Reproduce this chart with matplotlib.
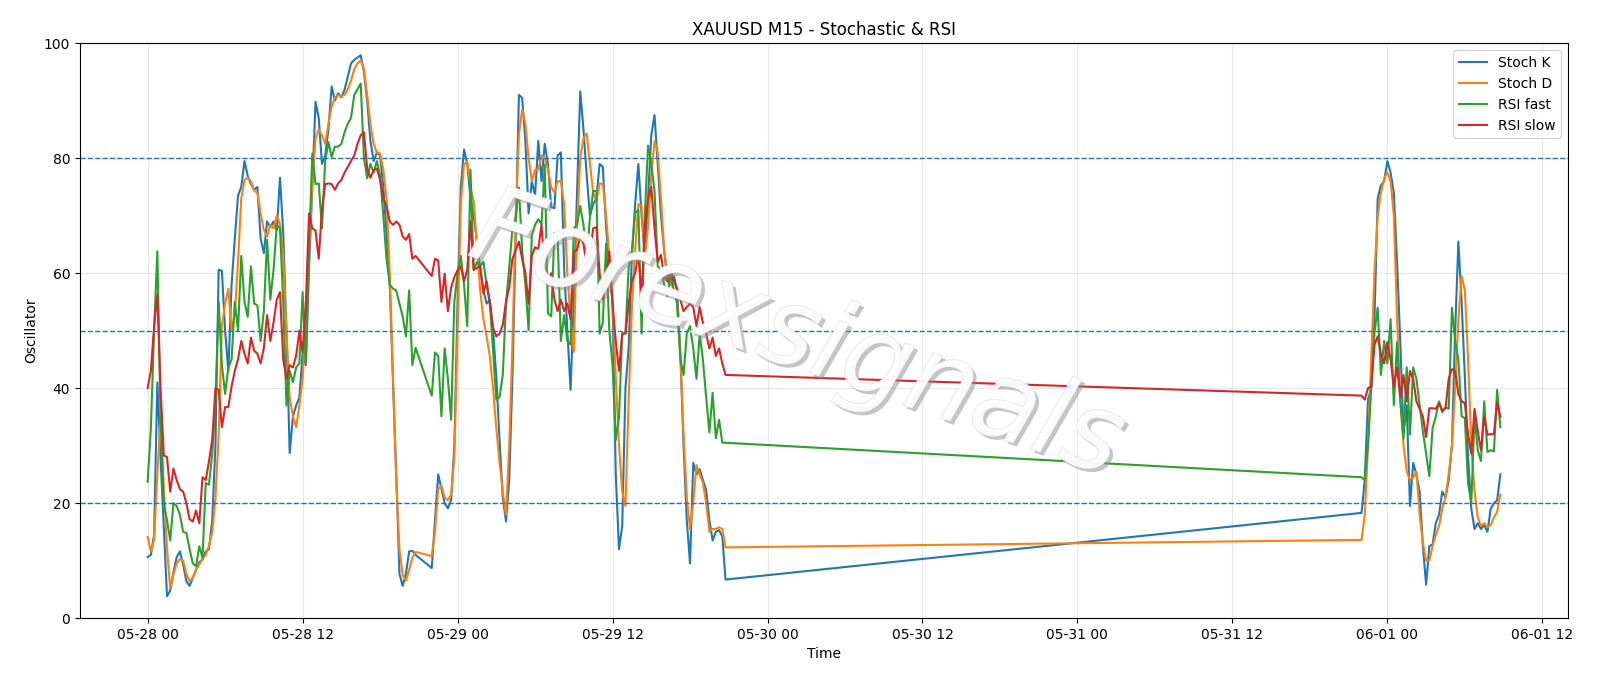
import matplotlib
matplotlib.use("Agg")
import matplotlib.pyplot as plt
import matplotlib.dates as mdates
import matplotlib.patheffects as pe
import pandas as pd

# 15 minute bars, three blocks (daily break on 05-28, weekend gap)
t_1 = pd.date_range("2020-05-28 00:00", periods=84, freq="15min")
t_2 = pd.date_range("2020-05-28 22:00", periods=92, freq="15min")
t_3 = pd.date_range("2020-05-31 22:00", periods=44, freq="15min")

stoch_k_1 = [10.6, 11.0, 14.5, 41.0, 28, 16, 3.8, 4.8, 8.0, 10.6,
             11.6, 9.3, 6.4, 5.6, 7.0, 8.4, 9.7, 10.2, 11.6, 12.0,
             17, 30, 60.6, 60.4, 50, 43, 58, 66, 73.5, 75,
             79.5, 76.9, 75.5, 74.5, 75, 66, 63.5, 69, 68, 69,
             67.5, 76.6, 67, 50, 28.7, 35, 37, 38.4, 46, 44,
             61, 75, 89.8, 87, 79, 80.5, 85, 92.5, 90, 91.3,
             90.6, 91.9, 94.2, 96.5, 97.1, 97.5, 97.9, 95, 90, 83,
             79.5, 81, 80.5, 75, 67, 58, 41, 25, 7.7, 5.6,
             7.7, 11.6, 11.7, 11.0]
stoch_k_2 = [8.7, 17, 25, 22.5, 20, 19.1, 20.5, 30, 55, 75,
             81.5, 79, 73, 70, 65.5, 61, 57, 54.7, 55.4, 50,
             42, 31, 21, 16.8, 24, 42, 66, 91, 90.5, 83,
             70.4, 76, 73.5, 83, 76, 82.5, 79, 71.5, 71.3, 80.5,
             81, 61, 50, 39.7, 55, 74, 91.6, 85, 77, 70,
             72, 73, 79, 78.5, 68, 61, 54.7, 25, 12, 16,
             40, 47, 63, 72, 79, 70, 63, 73, 84, 87.5,
             79, 70, 63.8, 58.6, 58, 59.5, 57, 46, 30, 17,
             9.5, 27, 25, 25.9, 24, 22.3, 17, 13.5, 15, 15.3,
             14.2, 6.7]
stoch_k_3 = [18.3, 24, 38, 40, 52, 73, 75.3, 76, 79.5, 77.5,
             74, 62, 48, 32, 37, 19.5, 27, 25, 22, 12.5,
             5.8, 12.5, 12.8, 16.5, 18, 22, 21, 24, 30, 50,
             65.5, 55, 42, 28, 19, 15.5, 16.5, 15.5, 16.2, 15,
             19, 20, 20.5, 25]

stoch_d_1 = [14.1, 11.6, 13.6, 25, 34.7, 23, 12, 5.2, 7.7, 9.5,
             10.3, 10, 7.7, 6.4, 7, 8.4, 9.3, 10.3, 11, 12.6,
             14.9, 20.8, 31.9, 50.8, 54.7, 57.3, 50, 53, 62, 73,
             76.2, 76.6, 76, 74.3, 74, 70.4, 67.5, 66.4, 68.4, 67.8,
             70, 68.5, 63, 50, 38.4, 35.1, 33.2, 37, 41.6, 50.5,
             63.5, 75.5, 83.4, 85, 84, 82.5, 86, 89, 90.5, 91,
             90.8, 91, 92, 93.5, 95.5, 96.5, 97, 95.5, 91, 86,
             82.5, 81, 80.8, 78, 73, 60, 42, 24, 12, 7.5,
             6.5, 8.4, 10.5, 11.5]
stoch_d_2 = [10.8, 15, 22.5, 23, 21, 20.5, 21.5, 28, 50, 72,
             78.9, 79.5, 75, 72.5, 65, 57, 52, 49, 45.5, 40,
             33, 27, 22, 18, 30, 48, 70, 84, 88.5, 86,
             80, 76, 78, 78, 80.5, 80, 78, 75, 74, 76,
             76, 72, 60, 52, 46.3, 68, 80, 83.5, 84.3, 79,
             74, 72.5, 75.6, 75.5, 70, 63, 55, 42, 30, 22,
             19.5, 38, 54, 64, 72, 71.7, 63, 68, 77, 83,
             81, 73, 64, 60, 58.5, 57, 55, 46, 32, 21,
             15.5, 20, 26.6, 25, 23.5, 20, 15, 15.5, 15.5, 15.8,
             15.5, 12.3]
stoch_d_3 = [13.6, 18, 30, 45, 60, 70, 74, 76.5, 77.5, 76,
             70, 52, 38, 30, 25.5, 24, 24.5, 25.5, 18, 13,
             10, 10, 12.5, 14.5, 16, 19, 21, 25, 30, 40,
             52, 59.5, 57, 45, 30, 22, 17.5, 16, 16.5, 15.8,
             16.2, 17.5, 18.5, 21.5]

rsi_fast_1 = [23.7, 33, 50, 63.8, 35, 20, 17, 13.5, 20, 19.5,
              18, 15, 14.8, 12, 9.5, 9, 12.5, 10.5, 23.5, 23.2,
              28.6, 37.7, 55, 44, 39, 43.6, 45, 55, 50, 63,
              55, 52.4, 61.2, 54.7, 54.4, 48.2, 53.4, 65.8, 55.4, 60.6,
              68.4, 67.8, 55, 37, 43, 41, 43.6, 44.3, 56.7, 44.3,
              64.5, 80.8, 75.5, 75.6, 67.8, 79.5, 82.8, 80.2, 82, 82,
              82.5, 84.5, 86, 87, 91, 92, 93, 80, 76.5, 79,
              77.5, 79.5, 77, 70, 62.5, 58, 57.3, 57, 54.7, 52.5,
              49, 57, 44, 47]
rsi_fast_2 = [38.7, 46.2, 45.6, 35.1, 46.9, 41.6, 34.5, 55, 60, 63,
              58, 50.8, 78, 60.5, 61.9, 61.2, 62, 58, 54.7, 46.5,
              38, 38.4, 42.3, 54.7, 61, 67.8, 69.7, 74.9, 64, 58,
              50.1, 66.6, 68.4, 69.4, 68.5, 78.9, 53, 52.5, 67, 66.4,
              48.2, 52.7, 48.2, 47.6, 67.8, 68.4, 71.7, 68.4, 62.5, 69.7,
              74.3, 74.3, 49.5, 51.4, 65.1, 50, 44, 31, 35, 49.5,
              49.5, 61, 63.8, 70.5, 71, 49.5, 70, 82.2, 79, 74.3,
              61.2, 60.6, 58, 56, 60, 57, 54.7, 45, 42.3, 49.5,
              50.8, 46.9, 41.6, 49.5, 44.9, 38.4, 32.3, 39.2, 31.3, 34.5,
              30.5, 30.5]
rsi_fast_3 = [24.5, 24, 30, 40, 49.5, 54, 42.3, 48.2, 44.3, 52,
              37, 48, 37.7, 31.2, 43.6, 31.9, 43.6, 41.6, 37, 32.5,
              28.6, 24.7, 33, 35.1, 37.7, 35.8, 36.7, 36.4, 54, 48.2,
              44.9, 35.1, 34.8, 23.4, 20.1, 35.1, 29.2, 27.3, 37.7, 28.9,
              29.2, 29, 39.7, 33.2]

rsi_slow_1 = [40, 43, 50.8, 56.3, 40, 28.3, 28, 22, 26, 24,
              22.4, 22, 20, 17.2, 16.8, 18.7, 16.5, 24.5, 24, 27.3,
              31, 40, 39.7, 33.2, 36.7, 36.7, 40.3, 43, 45, 48.2,
              46, 44.3, 48.8, 46.5, 46, 44.3, 47, 52.7, 48.2, 51.4,
              55.4, 56.7, 45, 41.6, 44, 43.6, 45.6, 50, 46.2, 54.7,
              70.4, 67.8, 67.4, 62.5, 71, 75.5, 75.6, 75.5, 74.5, 75.6,
              76.2, 77.5, 78.5, 79.5, 80.5, 82.5, 84, 84.5, 78.2, 76.6,
              77.9, 78.2, 76.2, 73, 71.7, 69, 68.4, 69, 68.4, 66.4,
              65.8, 66.8, 62.5, 63]
rsi_slow_2 = [59.5, 62.5, 62.2, 55, 59.9, 53.4, 57.5, 59.3, 60.5, 61.2,
              58.6, 60.6, 69, 60.6, 60.9, 61.2, 56.5, 58.6, 54.7, 50.5,
              49, 49.5, 51, 55, 57.5, 62.5, 64, 65.5, 62.5, 60,
              54.7, 63, 64.5, 64.2, 68.4, 60.6, 58, 60, 55.4, 53.4,
              55.4, 53.4, 54.7, 52, 63.8, 64, 66.4, 65.1, 61.2, 63.2,
              67.8, 68, 60, 55.4, 58.6, 63.8, 54.7, 48.2, 43, 49.5,
              49.5, 54.7, 58.6, 60, 63.2, 56, 68, 73, 75, 67.8,
              61.9, 63.2, 59.3, 58.6, 60.6, 58.6, 57.3, 55.4, 53.4, 54.1,
              54.7, 54.1, 50.8, 54.1, 51.4, 49.5, 46.9, 48.8, 45.6, 46.9,
              44.3, 42.3]
rsi_slow_3 = [38.7, 38, 40, 40.3, 47.5, 49, 46, 44.3, 48, 45,
              40.3, 43.6, 38.4, 42.3, 37.7, 43, 41.6, 37.7, 36.4, 35.1,
              31.5, 36.5, 36.5, 36.4, 37.4, 36.1, 36.5, 41.6, 43.3, 43,
              39, 37.7, 37.4, 31.9, 28.6, 36.4, 32.5, 29.2, 35.1, 31.9,
              32, 32, 37.5, 35]

levels = [20, 50, 80]

times = t_1.append(t_2).append(t_3)
df = pd.DataFrame({
    "Stoch K": stoch_k_1 + stoch_k_2 + stoch_k_3,
    "Stoch D": stoch_d_1 + stoch_d_2 + stoch_d_3,
    "RSI fast": rsi_fast_1 + rsi_fast_2 + rsi_fast_3,
    "RSI slow": rsi_slow_1 + rsi_slow_2 + rsi_slow_3,
}, index=times)

fig, ax = plt.subplots(figsize=(16, 6.86), dpi=100)
plt.subplots_adjust(left=0.05, right=0.98, top=0.937, bottom=0.099)

for col in df.columns:
    ax.plot(df.index, df[col], label=col, linewidth=1.5)

for lv in levels:
    ax.axhline(lv, color="C0", linestyle="--", linewidth=1)

ax.set_ylim(0, 100)
ax.grid(True, alpha=0.3)
ax.xaxis.set_major_locator(mdates.HourLocator(byhour=[0, 12]))
ax.xaxis.set_major_formatter(mdates.DateFormatter("%m-%d %H"))
ax.set_title("XAUUSD M15 - Stochastic & RSI", fontsize=12)
ax.set_xlabel("Time")
ax.set_ylabel("Oscillator")
ax.legend(loc="upper right")

# watermark
ax.text(0.482, 0.49, "Forexsignals", transform=ax.transAxes, fontsize=78,
        rotation=-19, ha="center", va="center", color="white", alpha=0.6,
        style="italic", zorder=10,
        path_effects=[pe.withSimplePatchShadow(offset=(2.5, -2.5), shadow_rgbFace="#8c8c8c", alpha=0.5),
                      pe.withStroke(linewidth=0.8, foreground="#d0d0d0")])

plt.savefig("out.png")
